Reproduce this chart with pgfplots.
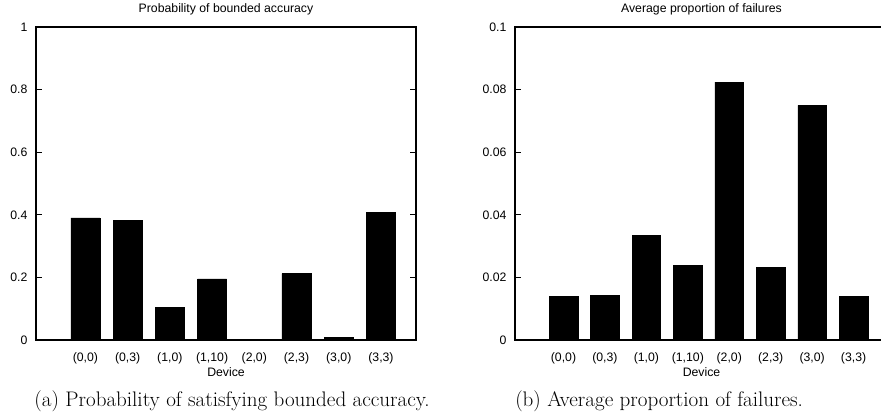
\documentclass[border=0pt]{standalone}
\usepackage{pgfplots}
\pgfplotsset{compat=1.18}
\usepackage{fontspec}
\newfontfamily\axisfont{Liberation Sans}
\newcommand\af{\axisfont\fontsize{9.2}{11}\selectfont}
\begin{document}
\begin{tikzpicture}
\useasboundingbox (0,0) rectangle (660.75pt,314.25pt);
\pgfplotsset{
  dev/.style={
    scale only axis, height=234.75pt,
    axis line style={line width=0.8pt},
    font=\af,
    every tick label/.append style={font=\af},
    label style={font=\af},
    title style={font=\af},
    xmin=-1.17, xmax=7.83, ymin=0,
    xtick={0,...,7},
    xticklabels={(0,0),(0,3),(1,0),(1,10),(2,0),(2,3),(3,0),(3,3)},
    major x tick style={draw=none},
    tick align=inside, major tick length=4.5pt,
    ytick style={black, line width=0.6pt},
    xticklabel style={anchor=base, yshift=-11.75pt},
    yticklabel style={xshift=-2.9pt},
    xlabel=Device,
    xlabel style={at={(axis description cs:0.5,0)}, anchor=base, yshift=-27.5pt},
    title style={at={(axis description cs:0.5,1)}, anchor=base, yshift=5pt},
    ybar, bar width=0.69,
  }
}
\begin{axis}[dev, at={(27pt,59.25pt)}, anchor=south west, width=285pt,
  ymax=1, ytick={0,0.2,0.4,0.6,0.8,1}, yticklabels={0,0.2,0.4,0.6,0.8,1},
  title={Probability of bounded accuracy}]
\addplot[fill=black, draw=black] coordinates {(0,0.390) (1,0.382) (2,0.104) (3,0.195) (4,0.003) (5,0.212) (6,0.008) (7,0.407)};
\end{axis}
\begin{axis}[dev, at={(386.25pt,59.25pt)}, anchor=south west, width=279.75pt,
  ymax=0.1, ytick={0,0.02,0.04,0.06,0.08,0.1}, yticklabels={0,0.02,0.04,0.06,0.08,0.1},
  title={Average proportion of failures}]
\addplot[fill=black, draw=black] coordinates {(0,0.0139) (1,0.0143) (2,0.0334) (3,0.0238) (4,0.0824) (5,0.0232) (6,0.0750) (7,0.0140)};
\end{axis}
\node[anchor=base east, inner sep=0pt] at (322.5pt,9.75pt) {\fontsize{15.8}{19}\selectfont (a) Probability of satisfying bounded accuracy.};
\node[anchor=base west, inner sep=0pt] at (386.25pt,9.75pt) {\fontsize{15.8}{19}\selectfont (b) Average proportion of failures.};
\end{tikzpicture}
\end{document}
